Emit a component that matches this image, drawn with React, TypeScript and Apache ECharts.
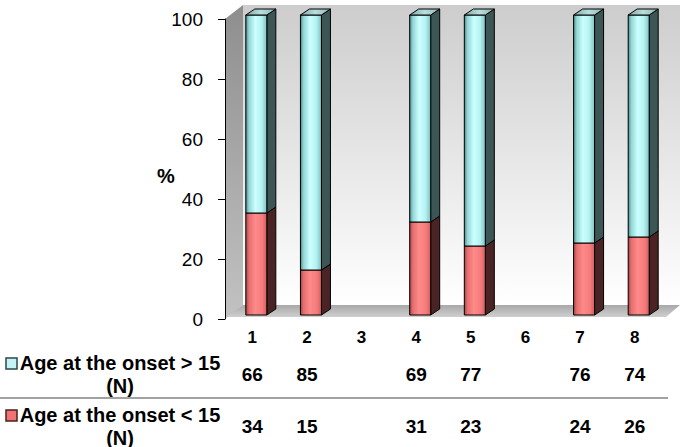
import React, { useEffect, useRef } from "react";
import * as echarts from "echarts";

const categories = ["1", "2", "3", "4", "5", "6", "7", "8"];
const above15: (number | null)[] = [66, 85, null, 69, 77, null, 76, 74];
const below15: (number | null)[] = [34, 15, null, 31, 23, null, 24, 26];
const yTicks = { min: 0, max: 100, interval: 20 };
const rowLabels = ["Age at the onset > 15\n(N)", "Age at the onset < 15\n(N)"];

const FONT = "'Liberation Sans', Arial, Helvetica, sans-serif";

// layout constants
const G = { left: 225, top: 19, width: 437, height: 300 };
const DEPTH = { dx: 18, dy: -13 };
const BAR = { w: 21, dx: 9, dy: -6, shiftX: 4, shiftY: -4 };

export default function App() {
  const ref = useRef<HTMLDivElement>(null);
  useEffect(() => {
    if (!ref.current) return;
    const chart = echarts.init(ref.current, undefined, { renderer: "svg" });

    const barData = categories
      .map((_, i) => (above15[i] == null || below15[i] == null ? null : [i, below15[i], above15[i]]))
      .filter((d) => d != null) as number[][];

    const lg = (stops: [number, string][], x2 = 1, y2 = 0) =>
      new echarts.graphic.LinearGradient(0, 0, x2, y2, stops.map(([o, c]) => ({ offset: o, color: c })));

    const cyanFront = () =>
      lg([
        [0, "#4c8a8a"],
        [0.15, "#93d6d6"],
        [0.45, "#ccffff"],
        [0.75, "#b6f2f2"],
        [1, "#7fc0c0"],
      ]);
    const redFront = () =>
      lg([
        [0, "#a84444"],
        [0.15, "#e66e6e"],
        [0.45, "#ff8a8a"],
        [0.8, "#f37a7a"],
        [1, "#d35c5c"],
      ]);

    const renderItem = (params: any, api: any) => {
      const i = api.value(0);
      const lo = api.value(1);
      const hi = api.value(2);
      const base = api.coord([i, 0]);
      const pRed = api.coord([i, lo]);
      const pTop = api.coord([i, lo + hi]);
      const cx = base[0] + BAR.shiftX;
      const x1 = cx - BAR.w / 2;
      const x2 = cx + BAR.w / 2;
      const yB = base[1] + BAR.shiftY;
      const yR = pRed[1] + BAR.shiftY;
      const yT = pTop[1] + BAR.shiftY;
      const stroke = { stroke: "#000", lineWidth: 1 };
      const side = (ya: number, yb: number, fill: string) => ({
        type: "polygon",
        shape: {
          points: [
            [x2, ya],
            [x2 + BAR.dx, ya + BAR.dy],
            [x2 + BAR.dx, yb + BAR.dy],
            [x2, yb],
          ],
        },
        style: { fill, ...stroke },
      });
      return {
        type: "group",
        children: [
          side(yR, yB, "#4a2424"),
          { type: "rect", shape: { x: x1, y: yR, width: BAR.w, height: yB - yR }, style: { fill: redFront(), ...stroke } },
          side(yT, yR, "#3c5656"),
          { type: "rect", shape: { x: x1, y: yT, width: BAR.w, height: yR - yT }, style: { fill: cyanFront(), ...stroke } },
          {
            type: "polygon",
            shape: {
              points: [
                [x1, yT],
                [x1 + BAR.dx, yT + BAR.dy],
                [x2 + BAR.dx, yT + BAR.dy],
                [x2, yT],
              ],
            },
            style: { fill: lg([[0, "#7fa8a8"], [0.5, "#b8dede"], [1, "#8fb4b4"]]), ...stroke },
          },
        ],
      };
    };

    const bx = G.left, by = G.top, bw = G.width, bh = G.height;
    const floorY = by + bh;
    const walls: any[] = [
      {
        type: "rect",
        z: -10,
        shape: { x: bx + DEPTH.dx, y: by + DEPTH.dy - 1, width: bw - DEPTH.dx + 18, height: bh },
        style: { fill: lg([[0, "#cdcdcd"], [1, "#ffffff"]], 0, 1) },
      },
      {
        type: "polygon",
        z: -9,
        shape: {
          points: [
            [bx, by],
            [bx + DEPTH.dx, by + DEPTH.dy - 1],
            [bx + DEPTH.dx, floorY + DEPTH.dy - 1],
            [bx, floorY],
          ],
        },
        style: { fill: lg([[0, "#8e8e8e"], [1, "#c2c2c2"]], 0, 1) },
      },
      {
        type: "polygon",
        z: -8,
        shape: {
          points: [
            [bx + 1, floorY - 2],
            [bx + DEPTH.dx, floorY + DEPTH.dy - 1],
            [bx + bw + 18, floorY + DEPTH.dy - 1],
            [bx + bw + 4, floorY - 2],
          ],
        },
        style: { fill: lg([[0, "#a8a8a8"], [1, "#cfcfcf"]], 0, 1) },
      },
    ];

    const legendGraphics: any[] = [
      { type: "rect", shape: { x: 6, y: 358, width: 11, height: 11 }, style: { fill: "#c4f4f4", stroke: "#2b4848", lineWidth: 1.5 } },
      { type: "rect", shape: { x: 6, y: 410, width: 11, height: 11 }, style: { fill: "#f07272", stroke: "#4a2020", lineWidth: 1.5 } },
      {
        type: "text",
        x: 120,
        y: 374,
        style: { text: rowLabels[0], font: `bold 20px ${FONT}`, fill: "#000", align: "center", verticalAlign: "middle", lineHeight: 23 },
      },
      {
        type: "text",
        x: 120,
        y: 426,
        style: { text: rowLabels[1], font: `bold 20px ${FONT}`, fill: "#000", align: "center", verticalAlign: "middle", lineHeight: 23 },
      },
      { type: "line", shape: { x1: 0, y1: 398, x2: 668, y2: 398 }, style: { stroke: "#444", lineWidth: 1 } },
      {
        type: "text",
        x: 166,
        y: 176,
        style: { text: "%", font: `bold 20px ${FONT}`, fill: "#000", align: "center", verticalAlign: "middle" },
      },
    ];

    const hiddenLine = { show: false };
    const valueAxis = (data: string[], margin: number, size: number) => ({
      type: "category" as const,
      position: "bottom" as const,
      gridIndex: 0,
      data,
      axisLine: hiddenLine,
      axisTick: hiddenLine,
      splitLine: hiddenLine,
      axisLabel: { interval: 0, margin, fontSize: size, fontWeight: "bold", color: "#000", fontFamily: FONT },
    });

    chart.setOption({
      animation: false,
      backgroundColor: "#ffffff",
      grid: { left: G.left, top: G.top, width: G.width, height: G.height, containLabel: false },
      xAxis: [
        valueAxis(categories, 10, 17),
        valueAxis(above15.map((v) => (v == null ? "" : String(v))), 46, 19),
        valueAxis(below15.map((v) => (v == null ? "" : String(v))), 98, 19),
      ],
      yAxis: {
        type: "value",
        min: yTicks.min,
        max: yTicks.max,
        interval: yTicks.interval,
        axisLine: { show: true, lineStyle: { color: "#000", width: 1 } },
        axisTick: { show: true, length: 7, lineStyle: { color: "#000" } },
        splitLine: { show: false },
        axisLabel: { margin: 22, fontSize: 19, color: "#000", fontFamily: FONT },
      },
      graphic: [...walls, ...legendGraphics],
      series: [
        {
          type: "custom",
          xAxisIndex: 0,
          renderItem,
          encode: { x: 0, y: 2 },
          data: barData,
          z: 5,
        },
      ],
    });
    return () => chart.dispose();
  }, []);
  return <div ref={ref} style={{ position: "fixed", left: 0, top: 0, width: 685, height: 447 }} />;
}
